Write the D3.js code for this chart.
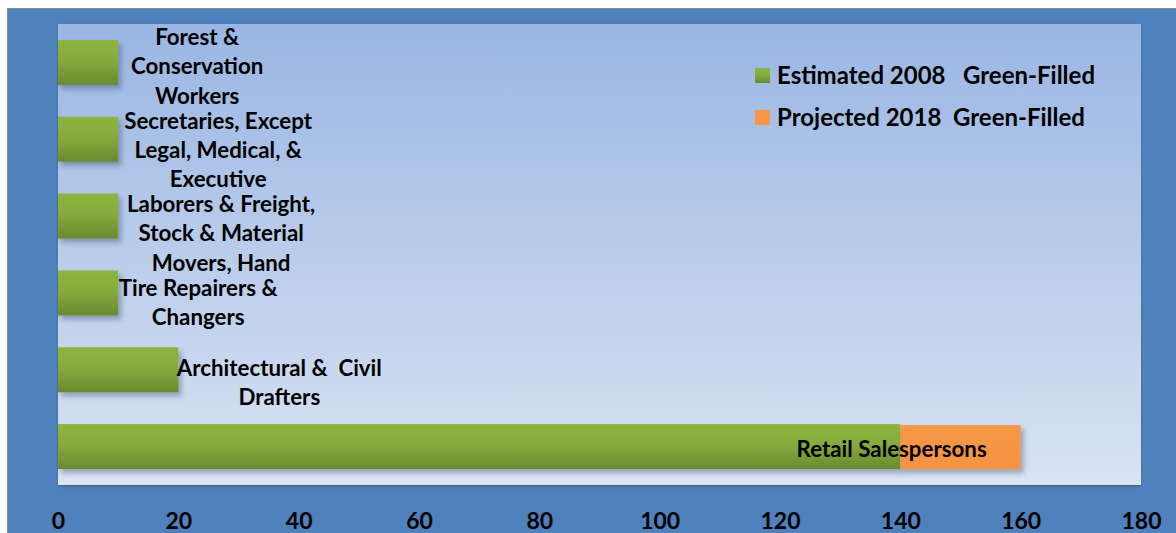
<!DOCTYPE html>
<html>
<head>
<meta charset="utf-8">
<script src="https://cdn.jsdelivr.net/npm/d3@7"></script>
<style>
  html, body { margin: 0; padding: 0; background: #ffffff; }
  svg { display: block; }
  text { font-family: Lato, "Liberation Sans", sans-serif; font-weight: bold; fill: #000; }
</style>
</head>
<body>
<svg id="chart" width="1176" height="533"></svg>
<script>
// ---- data ----
const categories = [
  "Forest & Conservation Workers",
  "Secretaries, Except Legal, Medical, & Executive",
  "Laborers & Freight, Stock & Material Movers, Hand",
  "Tire Repairers & Changers",
  "Architectural &  Civil Drafters",
  "Retail Salespersons"
];
const estimated2008 = [10, 10, 10, 10, 20, 140];
const projected2018 = [0, 0, 0, 0, 0, 20];
const labelLines = [
  ["Forest &", "Conservation", "Workers"],
  ["Secretaries, Except", "Legal, Medical, &", "Executive"],
  ["Laborers & Freight,", "Stock & Material", "Movers, Hand"],
  ["Tire Repairers &", "Changers"],
  ["Architectural &  Civil", "Drafters"],
  ["Retail Salespersons"]
];
const seriesNames = ["Estimated 2008   Green-Filled", "Projected 2018  Green-Filled"];
const xTicks = [0, 20, 40, 60, 80, 100, 120, 140, 160, 180];

// ---- layout (label offsets as Excel placed them) ----
const labelDx = [79, 100, 103, 80, 101, -129];
const labelDy = [-26, -19, -12.5, -5.5, -2.5, 1.5];
const lineH = 29.3;

const svg = d3.select("#chart");
const W = 1176, H = 533;
const plot = { left: 58, right: 1141, top: 24, bottom: 485 };

const defs = svg.append("defs");
const bg = defs.append("linearGradient").attr("id", "plotBg").attr("x1", 0).attr("y1", 0).attr("x2", 0).attr("y2", 1);
bg.append("stop").attr("offset", "0%").attr("stop-color", "#9ab6e3");
bg.append("stop").attr("offset", "100%").attr("stop-color", "#d9e3f3");
const gg = defs.append("linearGradient").attr("id", "greenGrad").attr("x1", 0).attr("y1", 0).attr("x2", 0).attr("y2", 1);
gg.append("stop").attr("offset", "0%").attr("stop-color", "#8db43f");
gg.append("stop").attr("offset", "45%").attr("stop-color", "#86ab3c");
gg.append("stop").attr("offset", "100%").attr("stop-color", "#6a8a30");
const og = defs.append("linearGradient").attr("id", "orangeGrad").attr("x1", 0).attr("y1", 0).attr("x2", 0).attr("y2", 1);
og.append("stop").attr("offset", "0%").attr("stop-color", "#f79748");
og.append("stop").attr("offset", "100%").attr("stop-color", "#f59343");
const sh = defs.append("filter").attr("id", "shadow").attr("x", "-10%").attr("y", "-20%").attr("width", "130%").attr("height", "160%");
sh.append("feDropShadow").attr("dx", 3).attr("dy", 4).attr("stdDeviation", 2.5)
  .attr("flood-color", "#1f3550").attr("flood-opacity", 0.35);
const psh = defs.append("filter").attr("id", "pshadow").attr("x", "-5%").attr("y", "-5%").attr("width", "110%").attr("height", "110%");
psh.append("feDropShadow").attr("dx", 0).attr("dy", 1.5).attr("stdDeviation", 0.8)
  .attr("flood-color", "#444").attr("flood-opacity", 0.6);

// outer frame
svg.append("rect").attr("x", 7.5).attr("y", 8.5).attr("width", W).attr("height", H)
  .attr("fill", "#4f81bd").attr("stroke", "#8c8c8c").attr("stroke-width", 1);

// plot area
svg.append("rect").attr("x", plot.left).attr("y", plot.top)
  .attr("width", plot.right - plot.left).attr("height", plot.bottom - plot.top)
  .attr("fill", "url(#plotBg)").attr("filter", "url(#pshadow)");

const x = d3.scaleLinear().domain([0, 180]).range([plot.left, plot.right]);
const y = d3.scaleBand().domain(categories).range([plot.top, plot.bottom])
  .paddingInner(0.414).paddingOuter(0.207);

const rows = categories.map((c, i) => ({ c, i, e: estimated2008[i], p: projected2018[i] }));

const g = svg.append("g");
// green bars
g.selectAll("rect.est").data(rows).join("rect")
  .attr("class", "est")
  .attr("x", d => x(0)).attr("y", d => y(d.c))
  .attr("width", d => x(d.e) - x(0)).attr("height", y.bandwidth())
  .attr("fill", "url(#greenGrad)").attr("filter", "url(#shadow)");
// orange bars
g.selectAll("rect.proj").data(rows.filter(d => d.p > 0)).join("rect")
  .attr("class", "proj")
  .attr("x", d => x(d.e)).attr("y", d => y(d.c) + 1)
  .attr("width", d => x(d.e + d.p) - x(d.e)).attr("height", y.bandwidth() - 1)
  .attr("fill", "url(#orangeGrad)").attr("filter", "url(#shadow)");

// labels
const lab = g.selectAll("text.lbl").data(rows).join("text")
  .attr("class", "lbl")
  .attr("text-anchor", "middle")
  .style("font-size", "22.3px");
lab.each(function(d) {
  const t = d3.select(this);
  const cx = x(d.e + d.p) + labelDx[d.i];
  const cy = y(d.c) + y.bandwidth() / 2 + labelDy[d.i];
  labelLines[d.i].forEach((ln, k) => {
    t.append("tspan").attr("x", cx).attr("y", cy + k * lineH)
      .attr("dominant-baseline", "central").attr("xml:space", "preserve").text(ln);
  });
});

// x axis
const axis = d3.axisBottom(x).tickValues(xTicks).tickSize(0).tickPadding(0).tickFormat(d3.format("d"));
const ax = svg.append("g").attr("transform", `translate(0, 520)`).call(axis);
ax.select(".domain").remove();
ax.selectAll("text").attr("dy", null).attr("dominant-baseline", "central")
  .style("font-size", "23px").style("font-family", "Lato, 'Liberation Sans', sans-serif")
  .style("font-weight", "bold").attr("fill", "#000");

// legend
const legColors = ["url(#greenGrad)", "#f79646"];
const legY = [75.5, 117.5];
const leg = svg.append("g");
seriesNames.forEach((s, i) => {
  leg.append("rect").attr("x", 755).attr("y", legY[i] - 7.5).attr("width", 15).attr("height", 15)
    .attr("fill", legColors[i]);
  leg.append("text").attr("x", 777).attr("y", legY[i] - 1).attr("dominant-baseline", "central")
    .attr("xml:space", "preserve").style("font-size", "24px").text(s);
});
</script>
</body>
</html>
